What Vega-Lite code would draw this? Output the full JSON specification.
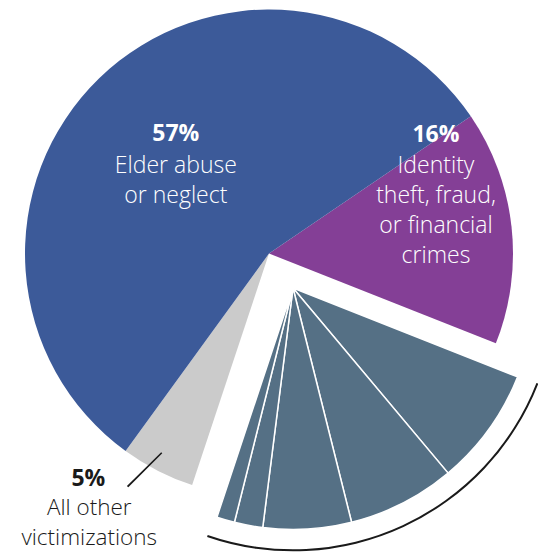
{
  "$schema": "https://vega.github.io/schema/vega-lite/v6.json",
  "width": 538,
  "height": 507,
  "autosize": {"type": "none"},
  "padding": {"left": 0, "top": 0, "right": 0, "bottom": 45},
  "background": "#ffffff",
  "config": {"view": {"stroke": null}},
  "data": {
    "values": [
      {"key": "fraud", "grp": "main", "value": 15.5, "order": 1, "pct": "16%", "desc": ["Identity", "theft, fraud,", "or financial", "crimes"]},
      {"key": "sub1", "grp": "sub", "value": 7.9, "order": 2},
      {"key": "sub2", "grp": "sub", "value": 7.2, "order": 3},
      {"key": "sub3", "grp": "sub", "value": 5.9, "order": 4},
      {"key": "sub4", "grp": "sub", "value": 1.9, "order": 5},
      {"key": "sub5", "grp": "sub", "value": 1.2, "order": 6},
      {"key": "other", "grp": "main", "value": 4.9, "order": 7, "pct": "5%", "desc": ["All other", "victimizations"]},
      {"key": "elder", "grp": "main", "value": 55.5, "order": 8, "pct": "57%", "desc": ["Elder abuse", "or neglect"]}
    ]
  },
  "transform": [
    {"stack": "value", "groupby": [], "sort": [{"field": "order", "order": "ascending"}], "as": ["start", "end"]},
    {"calculate": "(datum.start + datum.end) / 2", "as": "mid"}
  ],
  "layer": [
    {
      "transform": [{"filter": "datum.grp === 'main'"}],
      "mark": {"type": "arc", "radius": 244},
      "encoding": {
        "theta": {"field": "start", "type": "quantitative", "stack": null, "scale": {"domain": [0, 100], "range": [0.9739, 7.2571], "nice": false}},
        "theta2": {"field": "end"},
        "color": {"field": "key", "type": "nominal", "scale": {"domain": ["fraud", "other", "elder"], "range": ["#843f96", "#cbcbcb", "#3c5a99"]}, "legend": null}
      }
    },
    {
      "transform": [{"filter": "datum.grp === 'sub'"}],
      "mark": {"type": "arc", "radius": 241.5, "xOffset": 24, "yOffset": 34.5, "fill": "#557085", "stroke": "#ffffff", "strokeWidth": 1.5},
      "encoding": {
        "theta": {"field": "start", "type": "quantitative", "stack": null},
        "theta2": {"field": "end"}
      }
    },
    {
      "transform": [
        {"filter": "datum.grp === 'sub'"},
        {"aggregate": [{"op": "min", "field": "start", "as": "gstart"}, {"op": "max", "field": "end", "as": "gend"}], "groupby": ["grp"]}
      ],
      "mark": {"type": "arc", "radius": 263.3, "radius2": 261.3, "xOffset": 24, "yOffset": 34.5, "fill": "#1a1a1a", "thetaOffset": -0.005, "theta2Offset": 0.012},
      "encoding": {
        "theta": {"field": "gstart", "type": "quantitative", "stack": null},
        "theta2": {"field": "gend"}
      }
    },
    {
      "transform": [{"filter": "datum.key === 'other'"}],
      "mark": {"type": "arc", "theta": 3.9245, "theta2": 3.9348, "radius": 199.4, "radius2": 151.3, "yOffset": 92.5, "fill": "#1a1a1a"},
      "encoding": {}
    },
    {
      "transform": [{"filter": "datum.key === 'elder'"}],
      "mark": {"type": "text", "radius": 130, "dx": -2.7, "dy": -19.4, "align": "center", "baseline": "alphabetic", "font": "Open Sans", "fontSize": 23, "fontWeight": "bold", "fill": "#ffffff"},
      "encoding": {"theta": {"field": "mid", "type": "quantitative", "stack": null}, "text": {"field": "pct"}}
    },
    {
      "transform": [{"filter": "datum.key === 'elder'"}],
      "mark": {"type": "text", "radius": 130, "dx": -2.7, "dy": 13.2, "align": "center", "baseline": "alphabetic", "font": "Open Sans", "fontSize": 23, "fontWeight": 300, "lineHeight": 30, "fill": "#ffffff"},
      "encoding": {"theta": {"field": "mid", "type": "quantitative", "stack": null}, "text": {"field": "desc"}}
    },
    {
      "transform": [{"filter": "datum.key === 'fraud'"}],
      "mark": {"type": "text", "radius": 168, "dx": 0, "dy": -93.4, "align": "center", "baseline": "alphabetic", "font": "Open Sans", "fontSize": 23, "fontWeight": "bold", "fill": "#ffffff"},
      "encoding": {"theta": {"field": "mid", "type": "quantitative", "stack": null}, "text": {"field": "pct"}}
    },
    {
      "transform": [{"filter": "datum.key === 'fraud'"}],
      "mark": {"type": "text", "radius": 168, "dx": 0, "dy": -61.8, "align": "center", "baseline": "alphabetic", "font": "Open Sans", "fontSize": 23, "fontWeight": 300, "lineHeight": 30, "fill": "#ffffff"},
      "encoding": {"theta": {"field": "mid", "type": "quantitative", "stack": null}, "text": {"field": "desc"}}
    },
    {
      "transform": [{"filter": "datum.key === 'other'"}],
      "mark": {"type": "text", "radius": 290, "dx": -48.2, "dy": -25.5, "align": "center", "baseline": "alphabetic", "font": "Open Sans", "fontSize": 23, "fontWeight": "bold", "fill": "#1a1a1a"},
      "encoding": {"theta": {"field": "mid", "type": "quantitative", "stack": null}, "text": {"field": "pct"}}
    },
    {
      "transform": [{"filter": "datum.key === 'other'"}],
      "mark": {"type": "text", "radius": 290, "dx": -47.3, "dy": 3.7, "align": "center", "baseline": "alphabetic", "font": "Open Sans", "fontSize": 22.5, "fontWeight": 300, "lineHeight": 29.5, "fill": "#1a1a1a"},
      "encoding": {"theta": {"field": "mid", "type": "quantitative", "stack": null}, "text": {"field": "desc"}}
    }
  ]
}
